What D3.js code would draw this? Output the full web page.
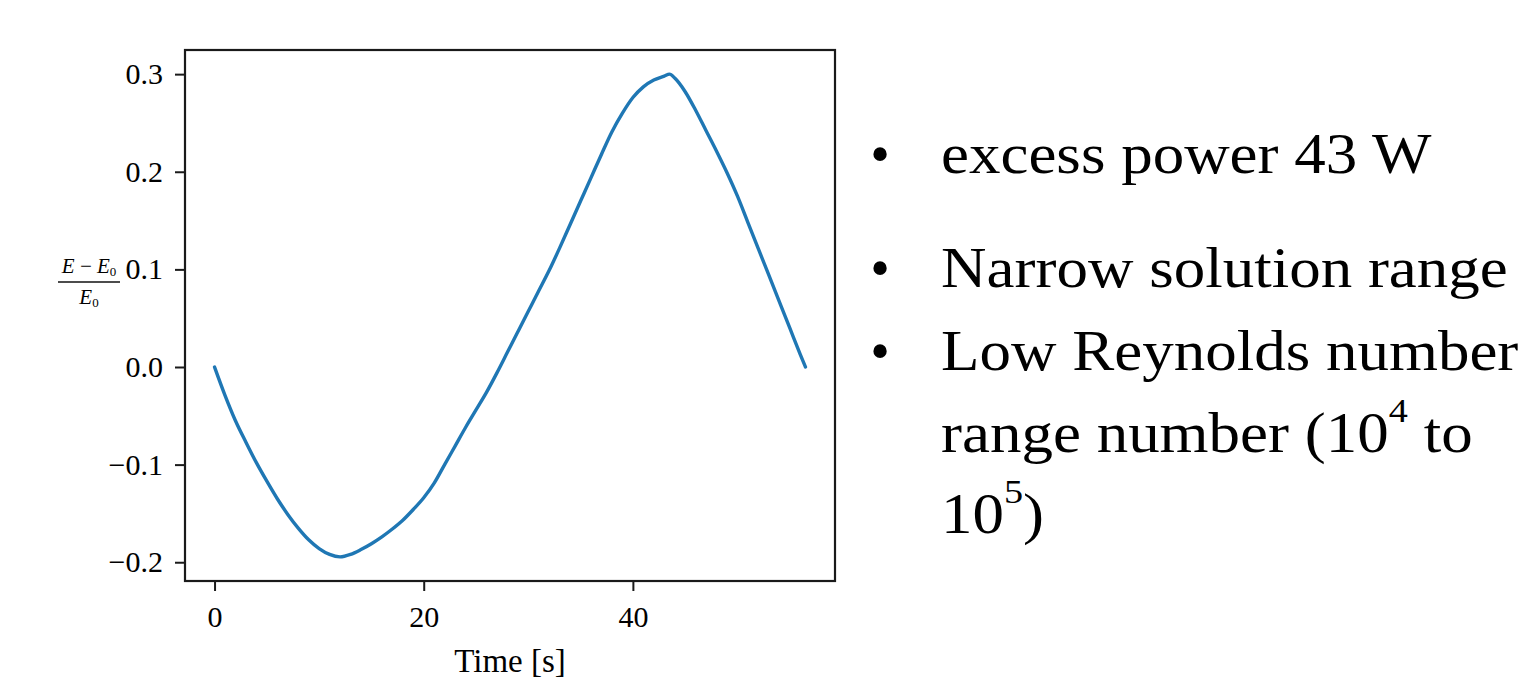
<!DOCTYPE html>
<html>
<head>
<meta charset="utf-8">
<script src="https://cdn.jsdelivr.net/npm/d3@7"></script>
<style>
  html, body { margin: 0; padding: 0; background: #fff; overflow: hidden; }
  svg { display: block; }
  text { font-family: "Liberation Serif", "Times New Roman", serif; fill: #000; }
</style>
</head>
<body>
<svg id="chart" width="1522" height="680"></svg>
<script>
// Relative energy deviation (E - E0) / E0 over time
const timeS = [0, 1, 2, 3, 4, 5, 6, 7, 8, 9, 10, 11, 12, 13, 14, 15, 16, 17, 18, 19,
  20, 21, 22, 23, 24, 25, 26, 27, 28, 29, 30, 31, 32, 33, 34, 35, 36, 37, 38, 39,
  40, 41, 42, 43, 43.5, 44, 45, 46, 47, 48, 49, 50, 51, 52, 53, 54, 55, 56, 56.5];
const energyDev = [0, -0.029, -0.055, -0.077, -0.098, -0.117, -0.135, -0.151, -0.165,
  -0.177, -0.186, -0.192, -0.1945, -0.192, -0.187, -0.181, -0.174, -0.166, -0.157,
  -0.146, -0.134, -0.119, -0.100, -0.081, -0.062, -0.044, -0.026, -0.006, 0.015,
  0.036, 0.057, 0.078, 0.099, 0.122, 0.146, 0.170, 0.194, 0.218, 0.241, 0.260,
  0.276, 0.287, 0.294, 0.298, 0.300, 0.296, 0.282, 0.263, 0.242, 0.221, 0.199,
  0.175, 0.148, 0.121, 0.094, 0.067, 0.040, 0.013, 0.0];
const xTicks = [0, 20, 40];
const yTicks = [-0.2, -0.1, 0.0, 0.1, 0.2, 0.3];
const xLabel = "Time [s]";
const bullets = [
  ["excess power 43 W"],
  ["Narrow solution range"],
  ["Low Reynolds number", "range number (10^4 to", "10^5)"]
];

const svg = d3.select("#chart");
const frame = { left: 185, right: 835, top: 50, bottom: 581 };

// 5% padding around the data extent
const xExt = d3.extent(timeS), yExt = d3.extent(energyDev);
const xPad = (xExt[1] - xExt[0]) * 0.05, yPad = (yExt[1] - yExt[0]) * 0.05;
const x = d3.scaleLinear().domain([xExt[0] - xPad, xExt[1] + xPad]).range([frame.left, frame.right]);
const y = d3.scaleLinear().domain([yExt[0] - yPad, yExt[1] + yPad]).range([frame.bottom, frame.top]);

const tickFont = 30;

// axes
const gx = svg.append("g").attr("transform", `translate(0,${frame.bottom})`)
  .call(d3.axisBottom(x).tickValues(xTicks).tickSize(10).tickPadding(15).tickFormat(d3.format("d")));
const gy = svg.append("g").attr("transform", `translate(${frame.left},0)`)
  .call(d3.axisLeft(y).tickValues(yTicks).tickSize(10).tickPadding(12)
    .tickFormat(d => d3.format(".1f")(d).replace("-", "\u2212")));
[gx, gy].forEach(g => {
  g.select(".domain").remove();
  g.selectAll(".tick line").attr("stroke", "#1a1a1a").attr("stroke-width", 2);
  g.selectAll(".tick text").style("font-family", "'Liberation Serif', serif")
    .style("font-size", tickFont + "px").attr("fill", "#111");
});

// frame
svg.append("rect")
  .attr("x", frame.left).attr("y", frame.top)
  .attr("width", frame.right - frame.left).attr("height", frame.bottom - frame.top)
  .attr("fill", "none").attr("stroke", "#1a1a1a").attr("stroke-width", 2.2);

// curve
const line = d3.line().x((d, i) => x(timeS[i])).y(d => y(d)).curve(d3.curveMonotoneX);
svg.append("path").datum(energyDev)
  .attr("d", line)
  .attr("fill", "none").attr("stroke", "#1f77b4").attr("stroke-width", 3.4)
  .attr("stroke-linejoin", "round").attr("stroke-linecap", "round");

// x label
svg.append("text").attr("x", (frame.left + frame.right) / 2).attr("y", 672)
  .attr("text-anchor", "middle").style("font-size", "33px").attr("fill", "#111").text(xLabel);

// y label as a fraction (E − E0) / E0
const yl = svg.append("g").attr("transform", "translate(89,282)");
const num = yl.append("text").attr("y", -9).attr("text-anchor", "middle")
  .style("font-size", "21px").style("font-style", "italic").attr("fill", "#111");
num.append("tspan").text("E\u2009\u2212\u2009E");
num.append("tspan").attr("dy", 3).style("font-size", "13px").style("font-style", "normal").text("0");
yl.append("line").attr("x1", -31).attr("x2", 31).attr("y1", 0).attr("y2", 0)
  .attr("stroke", "#111").attr("stroke-width", 1.3);
const den = yl.append("text").attr("y", 22).attr("text-anchor", "middle")
  .style("font-size", "21px").style("font-style", "italic").attr("fill", "#111");
den.append("tspan").text("E");
den.append("tspan").attr("dy", 3).style("font-size", "13px").style("font-style", "normal").text("0");

// bullet list (text is set slightly wide)
const lineBase = [[173], [287], [370, 452, 533]];
const bulletFont = 56, stretch = 1.125, supShift = 30;
bullets.forEach((lines, bi) => {
  svg.append("text").attr("x", 880).attr("y", lineBase[bi][0])
    .attr("text-anchor", "middle").style("font-size", bulletFont + "px").text("\u2022");
  lines.forEach((s, li) => {
    const t = svg.append("text")
      .attr("transform", `translate(941,${lineBase[bi][li]}) scale(${stretch},1)`)
      .style("font-size", bulletFont + "px");
    // "^d" marks a superscript digit
    const parts = s.split(/\^(\d)/);
    let raised = false;
    parts.forEach((p, k) => {
      if (k % 2 === 1) {
        t.append("tspan").attr("dy", -supShift).style("font-size", "34px").text(p);
        raised = true;
      } else if (p.length) {
        const ts = t.append("tspan").text(p);
        if (raised) { ts.attr("dy", supShift); raised = false; }
      }
    });
  });
});
</script>
</body>
</html>
